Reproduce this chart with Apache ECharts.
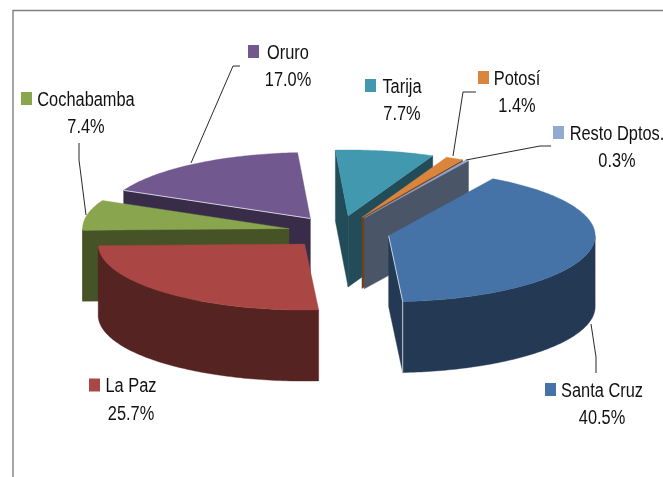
<!DOCTYPE html>
<html>
<head>
<meta charset="utf-8">
<style>html,body{margin:0;padding:0;background:#fff}#c{width:663px;height:477px}</style>
<script src="https://cdn.jsdelivr.net/npm/echarts@6/dist/echarts.min.js"></script>
</head>
<body>
<div id="c"></div>
<script>
const categories = ['Santa Cruz', 'La Paz', 'Cochabamba', 'Oruro', 'Tarija', 'Potosí', 'Resto Dptos.'];
const shares = [40.5, 25.7, 7.4, 17.0, 7.7, 1.4, 0.3];
const colors = ['#4572A7', '#AA4643', '#89A54E', '#71588F', '#4198AF', '#DB843D', '#93A9CF'];

// pie geometry (projected)
const cx = 339, cy = 232, rx = 206.5, ry = 66, depth = 71, explode = 51, firstAngle = 30.3;
// label placement: swatch x, text centre x, swatch centre y
const labelPos = {
  'Santa Cruz': [545, 602, 390],
  'La Paz': [89, 131, 385.5],
  'Cochabamba': [21, 86, 99],
  'Oruro': [248, 288, 52],
  'Tarija': [365, 402, 86],
  'Potosí': [478, 517, 78],
  'Resto Dptos.': [553, 617, 133]
};
const leaders = [
  [[240, 66], [233, 66], [191, 163]],
  [[79, 143], [79, 160], [86, 215]],
  [[476, 92], [463, 92], [453, 156]],
  [[551, 146], [540, 146], [466, 160]],
  [[596, 373], [596, 357], [591, 324]]
];
const litWalls = ['Santa Cruz', 'Oruro'];

const rad = d => d * Math.PI / 180;
let acc = firstAngle;
const slices = shares.map((v, i) => {
  const a0 = acc; acc += v * 3.6;
  const mid = rad((a0 + acc) / 2);
  return { name: categories[i], share: v, color: colors[i], a0, a1: acc,
    ax: cx + explode * Math.sin(mid),
    ay: cy - explode * Math.cos(mid) * ry / rx };
});
// back slices first
const drawOrder = slices.slice().sort((p, q) => p.ay - q.ay);

function darker(hex) {
  const n = parseInt(hex.slice(1), 16);
  const f = c => Math.round(c * 0.5);
  return `rgb(${f(n >> 16 & 255)},${f(n >> 8 & 255)},${f(n & 255)})`;
}

function renderItem(params, api) {
  const s = drawOrder[params.dataIndex];
  const rim = a => [s.ax + rx * Math.sin(rad(a)), s.ay - ry * Math.cos(rad(a))];
  const low = p => [p[0], p[1] + depth];
  const apex = [s.ax, s.ay];
  const wallCol = darker(s.color);
  const kids = [];
  const edges = [];
  const poly = (pts, fill) => kids.push({ type: 'polygon', shape: { points: pts },
    style: { fill, stroke: fill, lineWidth: 0.4 } });
  const wall = a => {
    const p = rim(a);
    poly([apex, p, low(p), low(apex)], wallCol);
    if (litWalls.includes(s.name)) {
      edges.push([apex, p]);
      if (Math.cos(rad(a)) < 0) edges.push([p, low(p)]);
    }
  };
  if (Math.cos(rad(s.a0 - 90)) < 0) wall(s.a0);
  if (Math.cos(rad(s.a1 + 90)) < 0) wall(s.a1);
  // outer curved wall: only the part facing the viewer
  const from = Math.max(s.a0, 90), to = Math.min(s.a1, 270);
  if (to > from) {
    const top = [];
    for (let a = from; a < to; a += 1) top.push(rim(a));
    top.push(rim(to));
    poly(top.concat(top.map(low).reverse()), wallCol);
  }
  const face = [apex];
  for (let a = s.a0; a < s.a1; a += 1) face.push(rim(a));
  face.push(rim(s.a1));
  poly(face, s.color);
  edges.forEach(e => kids.push({ type: 'polyline', shape: { points: e },
    style: { fill: 'none', stroke: '#e8edf3', lineWidth: 0.8 } }));
  return { type: 'group', children: kids };
}

const graphics = [
  { type: 'polyline', shape: { points: [[13, 477], [13, 10.5], [663, 10.5]] },
    style: { stroke: '#808080', fill: 'none', lineWidth: 1.4 }, z: 1 }
];
leaders.forEach(pts => graphics.push({ type: 'polyline', shape: { points: pts },
  style: { stroke: '#111', fill: 'none', lineWidth: 0.9 }, z: 5 }));
slices.forEach(s => {
  const [sw, tx, ty] = labelPos[s.name];
  const font = '19.5px "Liberation Sans",Arial,sans-serif';
  const txt = (str, y) => ({ type: 'text', z: 6, x: tx, y, scaleX: 0.84,
    style: { x: 0, y: 0, text: str, font, fill: '#111', align: 'center', verticalAlign: 'middle' } });
  graphics.push({ type: 'rect', shape: { x: sw, y: ty - 7, width: 11, height: 13 }, style: { fill: s.color }, z: 6 });
  graphics.push(txt(s.name, ty + 1.2));
  graphics.push(txt(s.share.toFixed(1) + '%', ty + 28.7));
});

const chart = echarts.init(document.getElementById('c'), null, { renderer: 'canvas' });
chart.setOption({
  backgroundColor: '#fff',
  animation: false,
  graphic: graphics,
  series: [{
    type: 'custom',
    coordinateSystem: 'none',
    renderItem,
    clip: false,
    data: drawOrder.map(s => s.share)
  }]
});
</script>
</body>
</html>
